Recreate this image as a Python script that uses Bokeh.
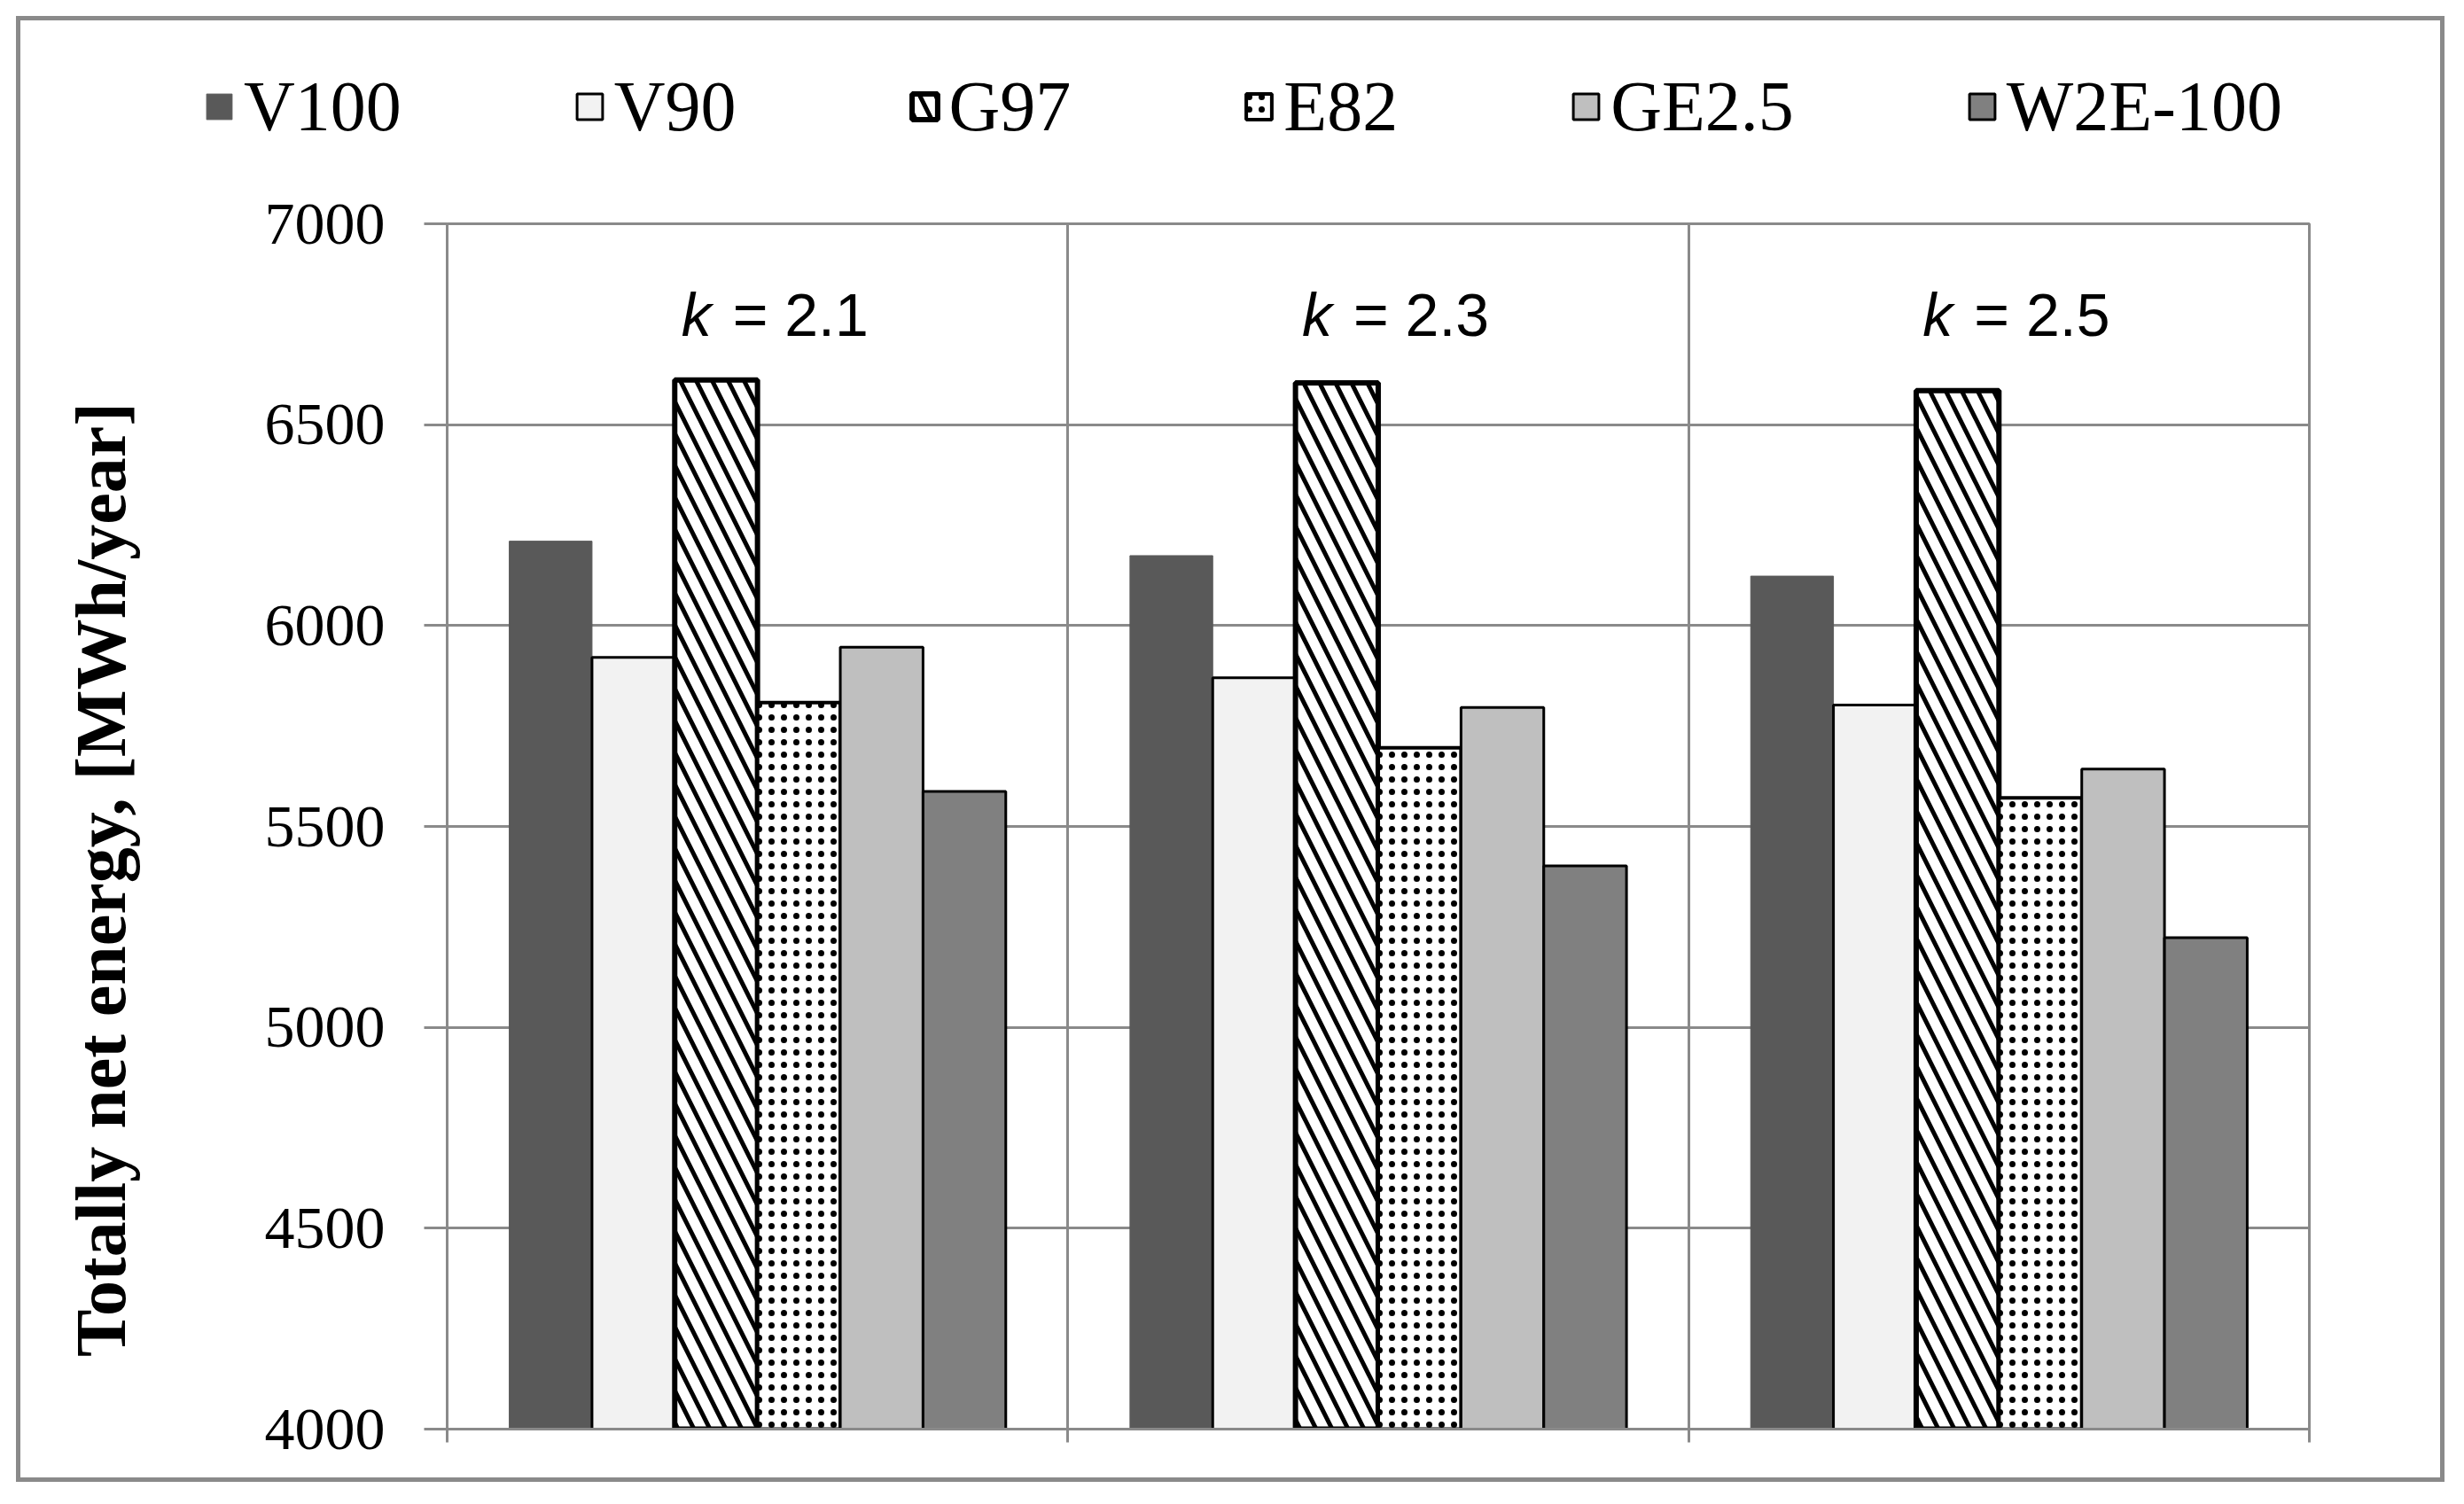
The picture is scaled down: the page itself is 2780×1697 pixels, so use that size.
import numpy as np
from bokeh.plotting import figure
from bokeh.layouts import column
from bokeh.models import (ColumnDataSource, Legend, LegendItem, FixedTicker, Range1d)
from bokeh.embed import file_html
from bokeh.resources import INLINE
from bokeh.core.properties import value

# ---------------- data ----------------
k_labels = ["2.1", "2.3", "2.5"]
models = ["V100", "V90", "G97", "E82", "GE2.5", "W2E-100"]
v100 = [6210, 6174, 6123]
v90 = [5921, 5870, 5802]
g97 = [6611, 6604, 6585]
e82 = [5808, 5696, 5571]
ge25 = [5946, 5796, 5643]
w2e100 = [5587, 5402, 5223]
y_ticks = [4000, 4500, 5000, 5500, 6000, 6500, 7000]
y_title = "Totally net energy, [MWh/year]"

series = [v100, v90, g97, e82, ge25, w2e100]

# ---------------- styles ----------------
GRID = "#8a8a8a"
styles = [
    dict(fill_color="#595959", line_color="#595959", line_width=1),
    dict(fill_color="#f2f2f2", line_color="black", line_width=3),
    dict(fill_color="white", line_color="black", line_width=6,
         hatch_pattern="\\", hatch_color="black", hatch_weight=5, hatch_scale=36),
    dict(fill_color="white", line_color="black", line_width=4,
         hatch_pattern=".", hatch_color="black", hatch_weight=0.3, hatch_scale=14),
    dict(fill_color="#bfbfbf", line_color="black", line_width=3),
    dict(fill_color="#808080", line_color="black", line_width=3),
]
bar_w = 0.1333
offsets = [-0.3333, -0.2, -0.0667, 0.0667, 0.2, 0.3333]

SHIFT = 271   # hidden strip at the top of the canvas

# ---------------- main chart ----------------
p = figure(width=2730, height=1644 + SHIFT, output_backend="svg", toolbar_location=None,
           x_range=Range1d(0, len(k_labels)), y_range=Range1d(y_ticks[0], y_ticks[-1]),
           min_border_left=481, min_border_right=148, min_border_top=230,
           min_border_bottom=55, background_fill_color="white",
           border_fill_color="white", margin=(-SHIFT, 0, 0, 0))
p.outline_line_color = GRID
p.outline_line_width = 3

centers = np.arange(len(k_labels)) + 0.5
renderers = []
for vals, off, st in zip(series, offsets, styles):
    src = ColumnDataSource(dict(x=centers + off, top=vals))
    renderers.append(p.vbar(x="x", top="top", bottom=y_ticks[0], width=bar_w,
                            source=src, **st))

# group labels  "k = x.x"
lab_src = ColumnDataSource(dict(x=centers, y=[6775] * len(k_labels),
                                k=["k"] * len(k_labels),
                                rest=["= " + k for k in k_labels]))
p.text(x="x", y="y", text="k", source=lab_src, text_align="right",
       text_baseline="middle", x_offset=-52, text_font=value("Liberation Sans"),
       text_font_style="italic", text_font_size="68px", text_color="black")
p.text(x="x", y="y", text="rest", source=lab_src, text_align="left",
       text_baseline="middle", x_offset=-28, text_font=value("Liberation Sans"),
       text_font_size="68px", text_color="black")

# axes
p.yaxis.ticker = FixedTicker(ticks=y_ticks)
p.yaxis.axis_line_color = GRID
p.yaxis.axis_line_width = 3
p.yaxis.major_tick_line_color = GRID
p.yaxis.major_tick_line_width = 3
p.yaxis.major_tick_out = 26
p.yaxis.major_tick_in = 0
p.yaxis.minor_tick_line_color = None
p.yaxis.major_label_text_font = "Liberation Serif"
p.yaxis.major_label_text_font_size = "68px"
p.yaxis.major_label_text_color = "black"
p.yaxis.major_label_standoff = 44
# trailing no-break spaces move the centred title a little lower, as in the original
p.yaxis.axis_label = y_title + "\u00a0" * 6
p.yaxis.axis_label_text_font = "Liberation Serif"
p.yaxis.axis_label_text_font_style = "bold"
p.yaxis.axis_label_text_font_size = "80px"
p.yaxis.axis_label_text_color = "black"
p.yaxis.axis_label_standoff = 138

p.xaxis.ticker = FixedTicker(ticks=list(range(len(k_labels) + 1)))
p.xaxis.axis_line_color = GRID
p.xaxis.axis_line_width = 3
p.xaxis.major_tick_line_color = GRID
p.xaxis.major_tick_line_width = 3
p.xaxis.major_tick_out = 15
p.xaxis.major_tick_in = 0
p.xaxis.minor_tick_line_color = None
p.xaxis.major_label_overrides = {i: "" for i in range(len(k_labels) + 1)}
p.xaxis.major_label_standoff = 0

p.ygrid.ticker = FixedTicker(ticks=y_ticks)
p.ygrid.grid_line_color = GRID
p.ygrid.grid_line_width = 3
p.xgrid.ticker = FixedTicker(ticks=list(range(len(k_labels) + 1)))
p.xgrid.grid_line_color = GRID
p.xgrid.grid_line_width = 3

# legend above the frame
items = [LegendItem(label=m, renderers=[r]) for m, r in zip(models, renderers)]
legend = Legend(items=items, orientation="horizontal", location=(-275, 291),
                label_text_font="Liberation Serif", label_text_font_size="80px",
                label_text_color="black", glyph_width=36, glyph_height=36,
                label_standoff=10, spacing=194, padding=0, margin=0,
                border_line_color=None, background_fill_alpha=0)
p.add_layout(legend, "above")

layout = column(p, margin=(18, 0, 0, 18),
                styles={"border": "5px solid " + GRID, "overflow": "hidden"})

open("out.html", "w").write(file_html(layout, INLINE))
